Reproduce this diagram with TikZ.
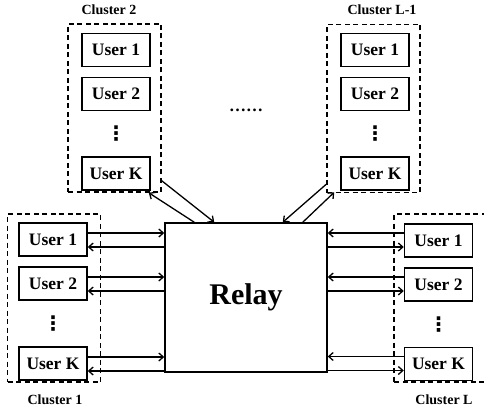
\documentclass[tikz,border=0pt]{standalone}
\usepackage{fontspec}
\setmainfont{Liberation Serif}
\newfontfamily\symfont{DejaVu Sans}
\usetikzlibrary{positioning,arrows.meta,calc}

\begin{document}
\begin{tikzpicture}[x=1pt,y=1pt,
        node distance=9.5pt,
        user/.style={rectangle,draw=black,line width=1.5pt,minimum width=68pt,minimum height=33pt,inner sep=0pt,font=\fontsize{17.5}{20}\selectfont\bfseries},
        cluster/.style={rectangle,draw=black,line width=1.5pt,dash pattern=on 5pt off 3.5pt,minimum width=93pt,minimum height=168pt,inner sep=0pt},
        clabel/.style={font=\fontsize{14}{16}\selectfont\bfseries},
        vdot/.style={inner sep=0pt,font=\fontsize{20}{20}\symfont\bfseries},
        arrow/.style={-{Straight Barb[length=4.5pt,width=8pt]},line width=1.3pt},
      ]
      \clip (0,0) rectangle (484,-414);
      \node[draw,line width=1.5pt,minimum width=162pt,minimum height=149pt,font=\fontsize{30}{34}\selectfont\bfseries] (relay) at (246,-297.5) {Relay};

      \node[cluster] (c1) at (54,-298) {};
      \node[cluster] (c2) at (114.5,-108) {};
      \node[cluster] (cl1) at (373.5,-108.5) {};
      \node[cluster,minimum width=94pt] (cl) at (441,-298) {};

      \node[user] (a1) at (53,-239.5) {User 1};
      \node[user,below=of a1] (a2) {User 2};
      \node[user,below=45.5pt of a2] (ak) {User K};
      \node[vdot] at ($(a2)!0.5!(ak)$) {⋮};

      \node[user] (b1) at (116,-50) {User 1};
      \node[user,below=of b1] (b2) {User 2};
      \node[user,below=45pt of b2] (bk) {User K};
      \node[vdot] at ($(b2)!0.5!(bk)$) {⋮};

      \node[user] (c1u1) at (375,-50) {User 1};
      \node[user,below=of c1u1] (c1u2) {User 2};
      \node[user,below=45pt of c1u2] (c1uk) {User K};
      \node[vdot] at ($(c1u2)!0.5!(c1uk)$) {⋮};

      \node[user] (d1) at (438.5,-240.5) {User 1};
      \node[user,below=of d1] (d2) {User 2};
      \node[user,below=45pt of d2] (dk) {User K};
      \node[vdot] at ($(d2)!0.5!(dk)$) {⋮};

      \node[font=\fontsize{17}{20}\selectfont\bfseries] (dots) at (246,-110) {……};

      \node[clabel] (t1) at (55,-400) {Cluster 1};
      \node[clabel] (t2) at (109,-9.5) {Cluster 2};
      \node[clabel] (tl1) at (382,-10) {Cluster L-1};
      \node[clabel] (tl) at (444,-400) {Cluster L};

      \foreach \u in {a1,a2,ak} {
        \draw[arrow] ([yshift=6.5pt]\u.east) -- ([yshift=6.5pt]\u.east -| relay.west);
        \draw[arrow] ([yshift=-7.5pt]\u.east -| relay.west) -- ([yshift=-7.5pt]\u.east);
      }
      \foreach \u in {d1,d2,dk} {
        \draw[arrow] ([yshift=7.5pt]\u.west) -- ([yshift=7.5pt]\u.west -| relay.east);
        \draw[arrow] ([yshift=-6.5pt]\u.west -| relay.east) -- ([yshift=-6.5pt]\u.west);
      }

      \draw[arrow] ($(c2.south east)+(0,12)$) -- ($(relay.north west)+(50,0)$);
      \draw[arrow] ($(relay.north west)+(30,0)$) -- ($(c2.south east)+(-13,0)$);
      \draw[arrow] ($(cl1.south west)+(0,9)$) -- ($(relay.north east)+(-45,0)$);
      \draw[arrow] ($(relay.north east)+(-25,0)$) -- ($(cl1.south west)+(8,1)$);
    \end{tikzpicture}
\end{document}
